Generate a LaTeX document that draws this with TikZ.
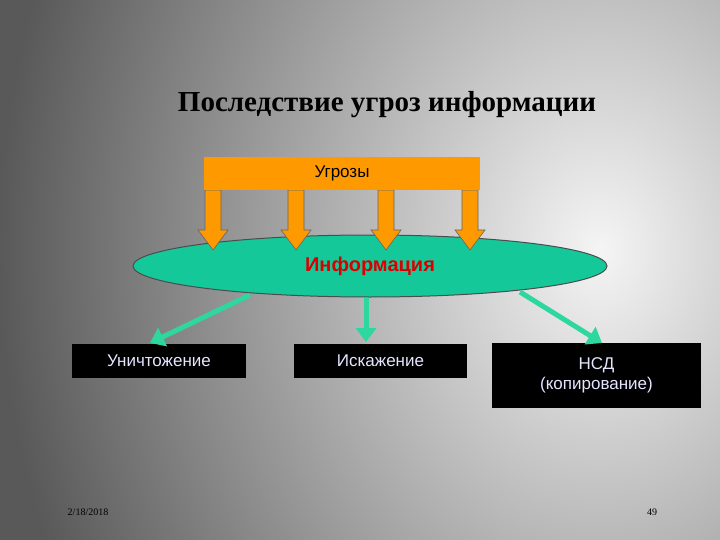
\documentclass[tikz,border=0pt]{standalone}
\usepackage{fontspec}
\setmainfont{Liberation Serif}
\newfontfamily\arial{Liberation Sans}
\usetikzlibrary{arrows.meta,shapes.geometric}
\definecolor{ellg}{HTML}{14C89A}
\definecolor{arrg}{HTML}{2ED6A0}
\definecolor{orng}{HTML}{FF9900}
\begin{document}
\begin{tikzpicture}[x=1pt,y=-1pt,
  blackbox/.style={fill=black,text=white!90!blue,font=\arial\fontsize{17}{20}\selectfont,inner sep=0pt,align=center},
  oarrow/.style={fill=orng,draw=black!60,line width=0.6pt},
  garrow/.style={draw=arrg,line width=5pt,-{Triangle[length=14pt,width=20pt]}}]
\useasboundingbox (0,0) rectangle (720,540);
\begin{scope}
\clip (0,0) rectangle (720,540);
\shade[inner color=gray!8,outer color=gray!70!black] (0,-500) rectangle (1200,1000);
\end{scope}
\node (title) at (387,105) {\bfseries\fontsize{29}{32}\selectfont Последствие угроз информации};
\node (info) [ellipse,draw=black!70,line width=1pt,fill=ellg,minimum width=474pt,minimum height=62pt,inner sep=0pt,text=red!85!black,font=\arial\bfseries\fontsize{20}{24}\selectfont] at (370,266) {Информация};
\foreach \x in {213,296,386,470}{
  \draw[oarrow] (\x-8,190) -- (\x+8,190) -- (\x+8,230) -- (\x+15,230) -- (\x,250) -- (\x-15,230) -- (\x-8,230) -- cycle;
}
\node (thr) [fill=orng,minimum width=276pt,minimum height=33pt,inner sep=0pt,font=\arial\fontsize{17}{20}\selectfont] at (342,173.5) {Угрозы};
\node (b1) [blackbox,minimum width=174pt,minimum height=34pt] at (159,361) {Уничтожение};
\node (b2) [blackbox,minimum width=173pt,minimum height=34pt] at (380.5,361) {Искажение};
\node (b3) [blackbox,minimum width=209pt,minimum height=65pt] at (596.5,375.5) {НСД\\(копирование)};
\coordinate (s1) at (250,295); \coordinate (e1) at (150,343);
\coordinate (s2) at (366,298); \coordinate (e2) at (366,342);
\coordinate (s3) at (520,292); \coordinate (e3) at (602,343);
\draw[garrow] (s1) -- (e1);
\draw[garrow] (s2) -- (e2);
\draw[garrow] (s3) -- (e3);
\node (date) at (88,512) {\fontsize{10}{12}\selectfont 2/18/2018};
\node (num) at (652,512) {\fontsize{10}{12}\selectfont 49};
\end{tikzpicture}
\end{document}
